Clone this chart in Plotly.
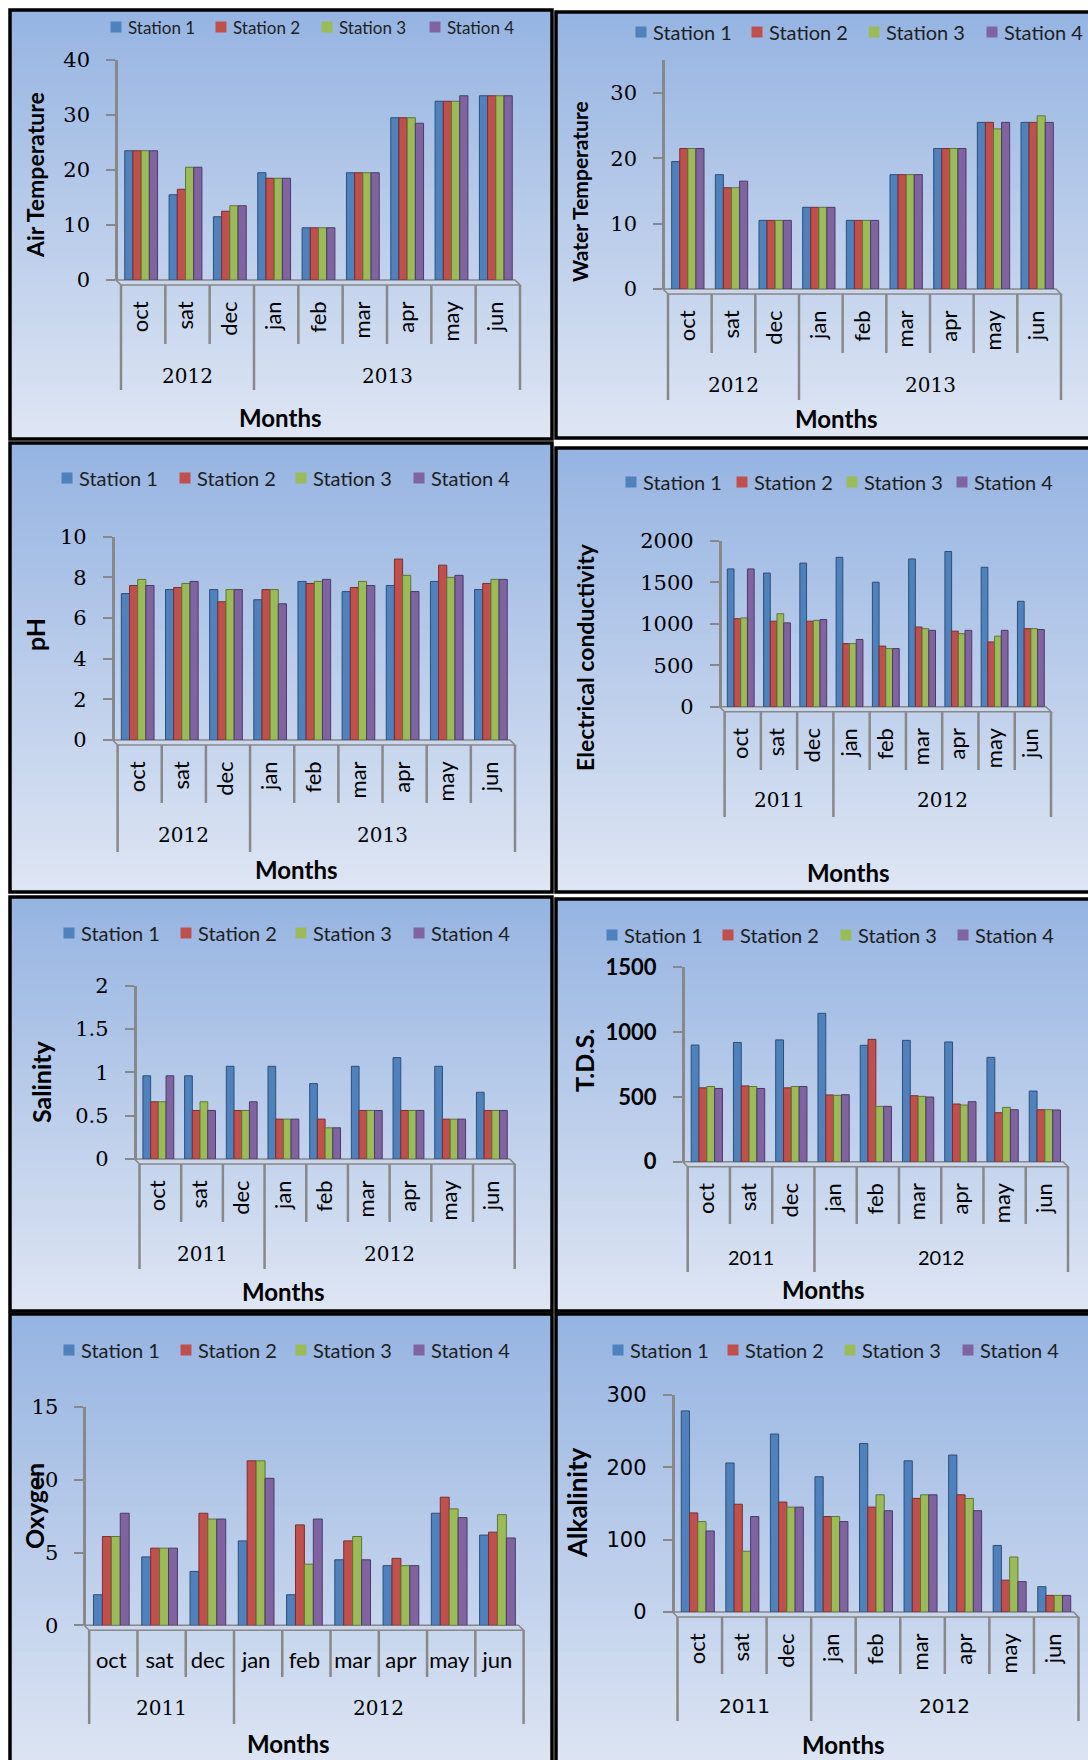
import plotly.graph_objects as go

W, H = 1088, 1760

# ---- data -------------------------------------------------------------
months = ["oct", "sat", "dec", "jan", "feb", "mar", "apr", "may", "jun"]
stations = ["Station 1", "Station 2", "Station 3", "Station 4"]
years_a = ["2012", "2013"]
years_b = ["2011", "2012"]

# one row per station, one value per month
air_temperature = [
    [23.5, 15.5, 11.5, 19.5, 9.5, 19.5, 29.5, 32.5, 33.5],
    [23.5, 16.5, 12.5, 18.5, 9.5, 19.5, 29.5, 32.5, 33.5],
    [23.5, 20.5, 13.5, 18.5, 9.5, 19.5, 29.5, 32.5, 33.5],
    [23.5, 20.5, 13.5, 18.5, 9.5, 19.5, 28.5, 33.5, 33.5],
]
water_temperature = [
    [19.5, 17.5, 10.5, 12.5, 10.5, 17.5, 21.5, 25.5, 25.5],
    [21.5, 15.5, 10.5, 12.5, 10.5, 17.5, 21.5, 25.5, 25.5],
    [21.5, 15.5, 10.5, 12.5, 10.5, 17.5, 21.5, 24.5, 26.5],
    [21.5, 16.5, 10.5, 12.5, 10.5, 17.5, 21.5, 25.5, 25.5],
]
ph = [
    [7.2, 7.4, 7.4, 6.9, 7.8, 7.3, 7.6, 7.8, 7.4],
    [7.6, 7.5, 6.8, 7.4, 7.7, 7.5, 8.9, 8.6, 7.7],
    [7.9, 7.7, 7.4, 7.4, 7.8, 7.8, 8.1, 8.0, 7.9],
    [7.6, 7.8, 7.4, 6.7, 7.9, 7.6, 7.3, 8.1, 7.9],
]
conductivity = [
    [1660, 1610, 1730, 1800, 1500, 1780, 1870, 1680, 1270],
    [1060, 1030, 1030, 760, 730, 960, 910, 780, 940],
    [1070, 1120, 1040, 760, 700, 940, 880, 850, 940],
    [1660, 1010, 1050, 810, 700, 920, 920, 920, 930],
]
salinity = [
    [0.96, 0.96, 1.07, 1.07, 0.87, 1.07, 1.17, 1.07, 0.77],
    [0.66, 0.56, 0.56, 0.46, 0.46, 0.56, 0.56, 0.46, 0.56],
    [0.66, 0.66, 0.56, 0.46, 0.36, 0.56, 0.56, 0.46, 0.56],
    [0.96, 0.56, 0.66, 0.46, 0.36, 0.56, 0.56, 0.46, 0.56],
]
tds = [
    [900, 920, 940, 1145, 898, 936, 924, 805, 545],
    [570, 585, 570, 515, 944, 509, 445, 378, 401],
    [580, 580, 580, 512, 427, 504, 437, 419, 401],
    [565, 565, 580, 517, 427, 499, 463, 401, 399],
]
oxygen = [
    [2.1, 4.7, 3.7, 5.8, 2.1, 4.5, 4.1, 7.7, 6.2],
    [6.1, 5.3, 7.7, 11.3, 6.9, 5.8, 4.6, 8.8, 6.4],
    [6.1, 5.3, 7.3, 11.3, 4.2, 6.1, 4.1, 8.0, 7.6],
    [7.7, 5.3, 7.3, 10.1, 7.3, 4.5, 4.1, 7.4, 6.0],
]
alkalinity = [
    [278, 206, 246, 187, 233, 209, 217, 92, 35],
    [137, 149, 152, 132, 145, 157, 162, 44, 23],
    [125, 84, 145, 132, 162, 162, 157, 76, 23],
    [112, 132, 145, 125, 140, 162, 140, 42, 23],
]

# ---- styling ------------------------------------------------------------
station_colors = ["#4F81BD", "#C0504D", "#9BBB59", "#8064A2"]
station_edges = ["#2d4f78", "#7a2f2d", "#5e7633", "#4c3a66"]
AXIS_GREY = "#888888"
SANS = "Lato"
SERIF = "DejaVu Serif"
GRAD_TOP = (150, 180, 226)
GRAD_BOTTOM = (222, 229, 243)
FLOOR_DX, FLOOR_DY = 5, 5

# panel geometry in canvas pixels
panels = [
    dict(values=air_temperature, ytitle="Air Temperature", years=years_a, ymax=40, dtick=10,
         box=(10, 10, 552, 439), axis_x=116, right_x=515, zero_y=280, top_y=60,
         month_div=344, year_div=390, year_y=376, months_xy=(280, 417),
         title_xy=(35, 175), title_size=23,
         legend_x=[116, 221, 327, 435], legend_y=27, legend_size=17,
         tick_font=SERIF, tick_size=21, tick_bold=False, month_angle=-90),
    dict(values=water_temperature, ytitle="Water Temperature", years=years_a, ymax=35, dtick=10,
         box=(556, 12, 1096, 438), axis_x=663, right_x=1056, zero_y=289, top_y=60.3,
         month_div=353, year_div=400, year_y=385, months_xy=(836, 418),
         title_xy=(579, 192), title_size=21,
         legend_x=[641, 757, 874, 992], legend_y=32, legend_size=20,
         tick_font=SERIF, tick_size=21, tick_bold=False, month_angle=-90),
    dict(values=ph, ytitle="pH", years=years_a, ymax=10, dtick=2,
         box=(10, 443, 552, 892), axis_x=112.6, right_x=510, zero_y=740, top_y=536.7,
         month_div=803, year_div=852, year_y=835, months_xy=(296, 869),
         title_xy=(35, 635), title_size=25,
         legend_x=[67, 185, 301, 419], legend_y=478, legend_size=20,
         tick_font=SERIF, tick_size=21, tick_bold=False, month_angle=-90),
    dict(values=conductivity, ytitle="Electrical conductivity", years=years_b, ymax=2000, dtick=500,
         box=(556, 448, 1096, 892), axis_x=719.6, right_x=1046, zero_y=706.7, top_y=540.7,
         month_div=770, year_div=817, year_y=800, months_xy=(848, 872),
         title_xy=(585, 657), title_size=23,
         legend_x=[631, 742, 852, 962], legend_y=482, legend_size=20,
         tick_font=SERIF, tick_size=21, tick_bold=False, month_angle=-90),
    dict(values=salinity, ytitle="Salinity", years=years_b, ymax=2, dtick=0.5,
         box=(10, 897, 552, 1311), axis_x=134.5, right_x=509.7, zero_y=1159, top_y=985.7,
         month_div=1222, year_div=1269, year_y=1254, months_xy=(283, 1291),
         title_xy=(41, 1082), title_size=25,
         legend_x=[69, 186, 301, 419], legend_y=933, legend_size=20,
         tick_font=SERIF, tick_size=21, tick_bold=False, month_angle=-90),
    dict(values=tds, ytitle="T.D.S.", years=years_b, ymax=1500, dtick=500,
         box=(556, 899, 1096, 1311), axis_x=682.7, right_x=1063, zero_y=1161.7, top_y=967.3,
         month_div=1224, year_div=1272, year_y=1257, months_xy=(823, 1289),
         title_xy=(584, 1061), title_size=25,
         legend_x=[612, 728, 846, 963], legend_y=935, legend_size=20,
         tick_font=SANS, tick_size=22, tick_bold=True, month_angle=-90),
    dict(values=oxygen, ytitle="Oxygen", years=years_b, ymax=15, dtick=5,
         box=(10, 1314, 552, 1775), axis_x=84.2, right_x=518.6, zero_y=1625.3, top_y=1407,
         month_div=1677, year_div=1724, year_y=1708, months_xy=(288, 1743),
         title_xy=(34, 1506), title_size=25,
         legend_x=[69, 186, 301, 419], legend_y=1350, legend_size=20,
         tick_font=SERIF, tick_size=21, tick_bold=False, month_angle=0),
    dict(values=alkalinity, ytitle="Alkalinity", years=years_b, ymax=300, dtick=100,
         box=(556, 1314, 1096, 1775), axis_x=672.5, right_x=1073.5, zero_y=1612, top_y=1395,
         month_div=1674, year_div=1721, year_y=1706, months_xy=(843, 1744),
         title_xy=(577, 1503), title_size=26,
         legend_x=[618, 733, 850, 968], legend_y=1350, legend_size=20,
         tick_font="DejaVu Sans", tick_size=21, tick_bold=False, month_angle=-90),
]


def px(x):
    return x / W


def py(y):
    return 1 - y / H


def mix(c0, c1, t):
    return "rgb(%d,%d,%d)" % tuple(round(a + (b - a) * t) for a, b in zip(c0, c1))


fig = go.Figure()
shapes = []
annotations = []
layout_axes = {}

for n, p in enumerate(panels, start=1):
    l, t, r, b = p["box"]

    # background: vertical gradient built from thin strips
    strips = 60
    for k in range(strips):
        y0 = t + (b - t) * k / strips
        y1 = t + (b - t) * (k + 1) / strips + 0.8
        shapes.append(dict(type="rect", xref="paper", yref="paper", layer="below",
                           x0=px(l), x1=px(r), y0=py(y1), y1=py(y0),
                           fillcolor=mix(GRAD_TOP, GRAD_BOTTOM, k / (strips - 1)),
                           line=dict(width=0)))
    shapes.append(dict(type="rect", xref="paper", yref="paper", layer="below",
                       x0=px(l), x1=px(r), y0=py(b), y1=py(t),
                       fillcolor="rgba(0,0,0,0)", line=dict(color="black", width=3.5)))

    ax_x, rx, zy = p["axis_x"], p["right_x"], p["zero_y"]
    x_left, x_right = ax_x + 3, rx + 3

    # chart floor
    floor = "M{},{} L{},{} L{},{} L{},{} Z".format(
        px(ax_x), py(zy), px(rx), py(zy),
        px(rx + FLOOR_DX), py(zy + FLOOR_DY), px(ax_x + FLOOR_DX), py(zy + FLOOR_DY))
    shapes.append(dict(type="path", xref="paper", yref="paper", layer="below", path=floor,
                       fillcolor="rgba(205,215,235,0.6)", line=dict(color=AXIS_GREY, width=1.5)))

    # category dividers (months short, years long)
    span = rx - ax_x
    for k in range(10):
        xk = ax_x + FLOOR_DX + span * k / 9
        bottom = p["year_div"] if k in (0, 3, 9) else p["month_div"]
        shapes.append(dict(type="line", xref="paper", yref="paper", layer="below",
                           x0=px(xk), x1=px(xk), y0=py(zy + FLOOR_DY), y1=py(bottom),
                           line=dict(color=AXIS_GREY, width=2.5)))

    year_font = dict(family=p["tick_font"], size=20, color="black")
    for label, frac in zip(p["years"], (1.5 / 9, 6 / 9)):
        annotations.append(dict(xref="paper", yref="paper", showarrow=False,
                                x=px(ax_x + FLOOR_DX + span * frac), y=py(p["year_y"]),
                                xanchor="center", yanchor="middle", text=label, font=year_font))

    annotations.append(dict(xref="paper", yref="paper", showarrow=False,
                            x=px(p["months_xy"][0]), y=py(p["months_xy"][1]),
                            xanchor="center", yanchor="middle", text="Months",
                            font=dict(family=SANS, size=24, color="black", weight="bold")))
    annotations.append(dict(xref="paper", yref="paper", showarrow=False,
                            x=px(p["title_xy"][0]), y=py(p["title_xy"][1]), textangle=-90,
                            xanchor="center", yanchor="middle", text=p["ytitle"],
                            font=dict(family=SANS, size=p["title_size"], color="black",
                                      weight="bold")))

    # legend row
    half = 5.5
    for j, name in enumerate(stations):
        cx = p["legend_x"][j]
        cy = p["legend_y"]
        shapes.append(dict(type="rect", xref="paper", yref="paper", layer="above",
                           x0=px(cx - half), x1=px(cx + half), y0=py(cy + half), y1=py(cy - half),
                           fillcolor=station_colors[j], line=dict(width=0)))
        annotations.append(dict(xref="paper", yref="paper", showarrow=False,
                                x=px(cx + half + 4), y=py(cy), xanchor="left", yanchor="middle",
                                text=name,
                                font=dict(family=SANS, size=p["legend_size"], color="#1e1e1e")))

    # bars
    for j, name in enumerate(stations):
        fig.add_trace(go.Bar(
            x=months, y=p["values"][j], name=name, showlegend=False,
            marker=dict(color=station_colors[j], line=dict(color=station_edges[j], width=1)),
            xaxis=f"x{n}", yaxis=f"y{n}"))

    tick_font = dict(family=p["tick_font"], size=p["tick_size"], color="black")
    if p["tick_bold"]:
        tick_font["weight"] = "bold"
    layout_axes[f"xaxis{n}"] = dict(
        domain=[px(x_left), px(x_right)], anchor=f"y{n}", type="category",
        categoryorder="array", categoryarray=months, range=[-0.5, 8.5],
        showline=False, showgrid=False, zeroline=False, ticks="",
        tickangle=p["month_angle"], automargin=False,
        ticklabelstandoff=16 if p["month_angle"] else 20,
        tickfont=dict(family=SANS, size=22, color="black"), fixedrange=True)
    layout_axes[f"yaxis{n}"] = dict(
        domain=[py(zy), py(p["top_y"])], anchor="free", position=px(ax_x),
        range=[0, p["ymax"]], tick0=0, dtick=p["dtick"], automargin=False,
        showline=True, linecolor=AXIS_GREY, linewidth=2.5,
        ticks="outside", ticklen=9, tickwidth=2, tickcolor=AXIS_GREY,
        showgrid=False, zeroline=False, tickfont=tick_font, ticklabelstandoff=12,
        fixedrange=True)

fig.update_layout(
    width=W, height=H, margin=dict(l=0, r=0, t=0, b=0, autoexpand=False),
    paper_bgcolor="white", plot_bgcolor="rgba(0,0,0,0)",
    barmode="group", bargap=0.26, bargroupgap=0,
    showlegend=False, shapes=shapes, annotations=annotations,
    **layout_axes,
)

fig.write_html("out.html")
